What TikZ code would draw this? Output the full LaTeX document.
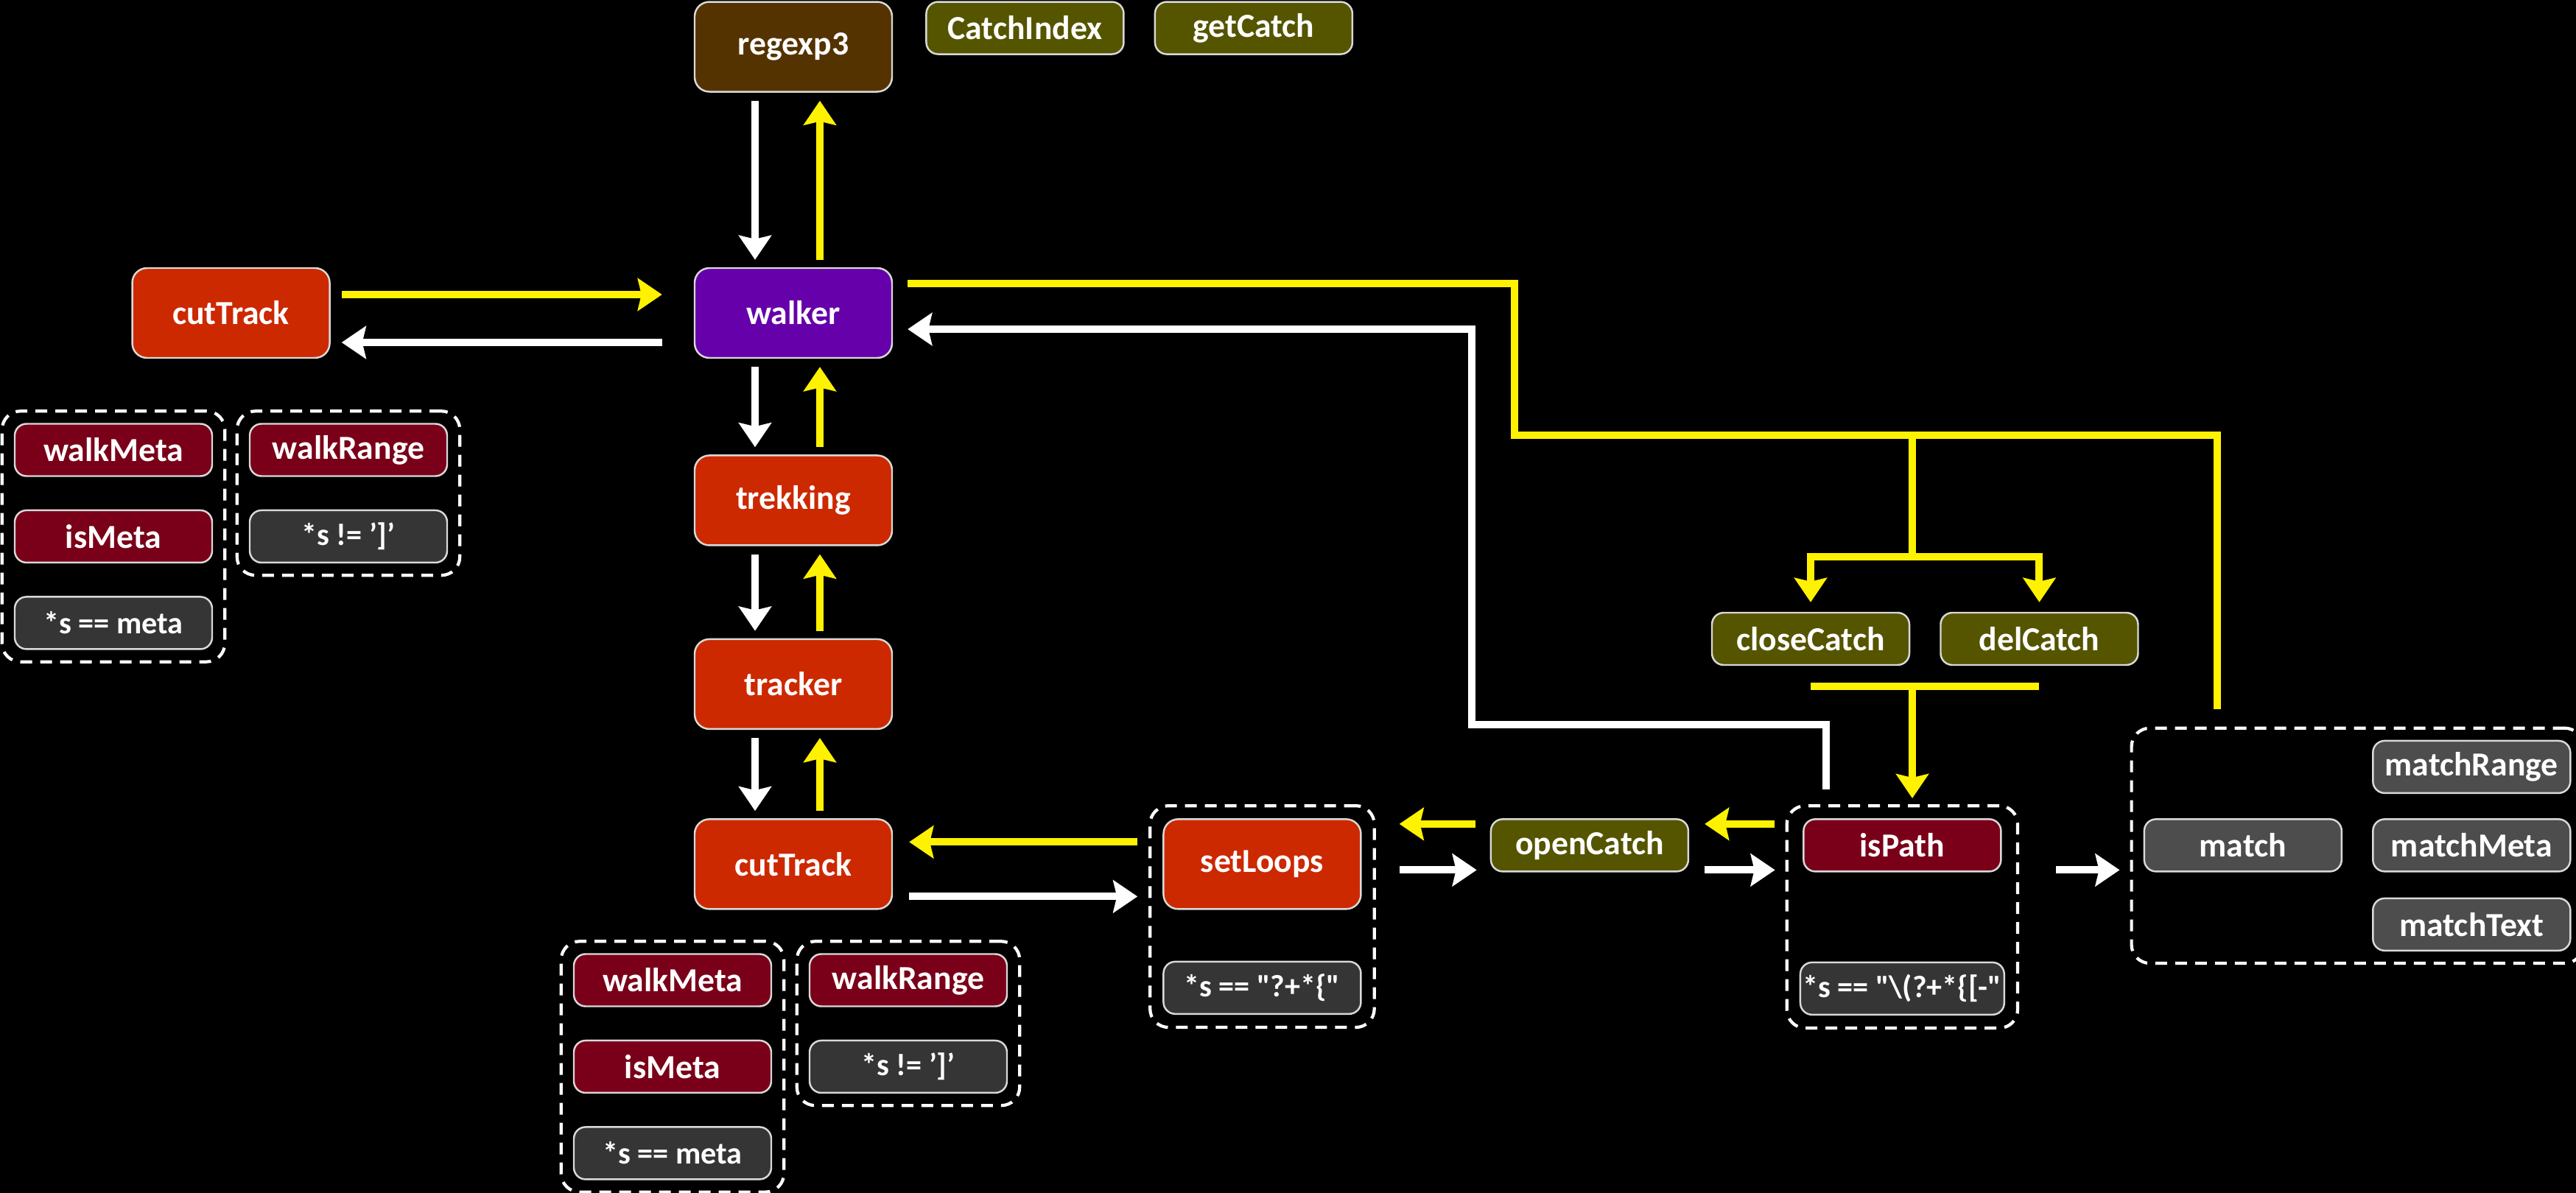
\documentclass[tikz,border=0pt]{standalone}
\usepackage{fontspec}
\setmainfont{Carlito}
\usetikzlibrary{arrows.meta,positioning,fit,calc}
\definecolor{brownC}{HTML}{553300}
\definecolor{oliveC}{HTML}{555500}
\definecolor{purpleC}{HTML}{6600AA}
\definecolor{redC}{HTML}{CC2900}
\definecolor{maroonC}{HTML}{7A0019}
\definecolor{condC}{HTML}{353535}
\definecolor{matchC}{HTML}{4D4D4D}

\begin{document}
\begin{tikzpicture}[node distance=0.44cm, every node/.style={font=\bfseries\fontsize{13}{15}\selectfont, text=white}, fn/.style={draw=white!85!black, line width=0.7pt, rounded corners=2mm, align=center, inner xsep=1pt, minimum width=2.68cm, minimum height=1.22cm}, tag/.style={fn, rounded corners=1.6mm, minimum height=0.71cm}, cond/.style={tag, fill=condC, font=\bfseries\fontsize{12}{14}\selectfont}, grp/.style={draw=white, line width=1.2pt, dash pattern=on 1.6mm off 1.1mm, rounded corners=2.5mm, inner sep=1.6mm}, wflow/.style={draw=white, line width=1mm, -{Stealth[length=3.3mm, width=4.4mm, inset=0.5mm]}}, yflow/.style={wflow, draw=yellow}, yline/.style={draw=yellow, line width=1mm}]
\fill[black] (0,0) rectangle (34.97,-16.2);
\useasboundingbox (0,0) rectangle (34.97,-16.2);
% centre column
\node[fn, fill=purpleC] (walker) at (10.77,-4.25) {walker};
\node[fn, fill=brownC, above=2.37cm of walker] (regexp) {regexp3};
\node[tag, fill=oliveC, right=0.44cm of regexp.north east, anchor=north west] (catchIndex) {CatchIndex};
\node[tag, fill=oliveC, right=0.40cm of catchIndex] (getCatch) {getCatch};
\node[fn, fill=redC, below=1.30cm of walker] (trekking) {trekking};
\node[fn, fill=redC, below=1.25cm of trekking] (tracker) {tracker};
\node[fn, fill=redC, below=1.20cm of tracker] (cutTrackB) {cutTrack};
\node[fn, fill=redC, left=4.93cm of walker] (cutTrackA) {cutTrack};
% helpers on the left
\node[tag, fill=maroonC] (walkMetaA) at (1.54,-6.11) {walkMeta};
\node[tag, fill=maroonC, below=of walkMetaA] (isMetaA) {isMeta};
\node[cond, below=of isMetaA] (metaA) {*s == meta};
\node[tag, fill=maroonC] (walkRangeA) at (4.73,-6.11) {walkRange};
\node[cond, below=of walkRangeA] (rangeA) {*s != ']'};
\node[grp, fit=(walkMetaA)(metaA)] (metaGrpA) {};
\node[grp, fit=(walkRangeA)(rangeA)] (rangeGrpA) {};
% helpers below
\node[tag, fill=maroonC] (walkMetaB) at (9.13,-13.31) {walkMeta};
\node[tag, fill=maroonC, below=of walkMetaB] (isMetaB) {isMeta};
\node[cond, below=of isMetaB] (metaB) {*s == meta};
\node[tag, fill=maroonC] (walkRangeB) at (12.33,-13.31) {walkRange};
\node[cond, below=of walkRangeB] (rangeB) {*s != ']'};
\node[grp, fit=(walkMetaB)(metaB)] (metaGrpB) {};
\node[grp, fit=(walkRangeB)(rangeB)] (rangeGrpB) {};
% loops and catches
\node[fn, fill=redC, right=3.66cm of cutTrackB] (setLoops) {setLoops};
\node[cond, below=0.69cm of setLoops] (loopCond) {*s == \textquotedbl?+*\{\textquotedbl};
\node[grp, inner sep=1.7mm, fit=(setLoops)(loopCond)] (loopGrp) {};
\node[tag, fill=oliveC, right=1.74cm of setLoops.north east, anchor=north west] (openCatch) {openCatch};
\node[tag, fill=maroonC, right=1.54cm of openCatch] (isPath) {isPath};
\node[cond, below=1.21cm of isPath] (pathCond) {*s == \textquotedbl\textbackslash(?+*\{[-\textquotedbl};
\node[grp, inner sep=1.7mm, fit=(isPath)(pathCond)] (pathGrp) {};
\node[tag, fill=matchC, right=1.92cm of isPath] (match) {match};
\node[tag, fill=matchC, right=0.40cm of match] (matchMeta) {matchMeta};
\node[tag, fill=matchC, above=0.33cm of matchMeta] (matchRange) {matchRange};
\node[tag, fill=matchC, below=0.34cm of matchMeta] (matchText) {matchText};
\node[grp, fit=(match)(matchRange)(matchText)] (matchGrp) {};
\node[tag, fill=oliveC] (closeCatch) at (24.58,-8.675) {closeCatch};
\node[tag, fill=oliveC, right=0.40cm of closeCatch] (delCatch) {delCatch};
\coordinate (hub) at (25.96,-5.91);
\coordinate (fork) at (25.96,-7.56);
\coordinate (join) at (25.96,-9.32);
% calls down, returns up
\foreach \a/\b in {regexp/walker, walker/trekking, trekking/tracker, tracker/cutTrackB} {
  \draw[wflow] ([xshift=-5.2mm, yshift=-1.1mm]\a.south) -- ([xshift=-5.2mm, yshift=1mm]\b.north);
  \draw[yflow] ([xshift=3.6mm, yshift=1mm]\b.north) -- ([xshift=3.6mm, yshift=-1.1mm]\a.south);
}
\draw[yflow] ([xshift=1.5mm, yshift=2.5mm]cutTrackA.east) -- ([xshift=-4.3mm, yshift=2.5mm]walker.west);
\draw[wflow] ([xshift=-4.3mm, yshift=-4mm]walker.west) -- ([xshift=1.5mm, yshift=-4mm]cutTrackA.east);
\draw[yflow] ([xshift=-3.4mm, yshift=3mm]setLoops.west) -- ([xshift=2.2mm, yshift=3mm]cutTrackB.east);
\draw[wflow] ([xshift=2.2mm, yshift=-4.4mm]cutTrackB.east) -- ([xshift=-3.4mm, yshift=-4.4mm]setLoops.west);
\draw[yflow] ($(openCatch.west)+(-2mm,2.9mm)$) -- ($(setLoops.east |- openCatch.west)+(5.1mm,2.9mm)$);
\draw[wflow] ($(setLoops.east |- openCatch.west)+(5.1mm,-3.35mm)$) -- ($(openCatch.west)+(-1.8mm,-3.35mm)$);
\draw[yflow] ($(pathGrp.west |- isPath.west)+(-1.5mm,2.9mm)$) -- ($(openCatch.east)+(2.1mm,2.9mm)$);
\draw[wflow] ($(openCatch.east)+(2.1mm,-3.35mm)$) -- ($(pathGrp.west |- isPath.west)+(-1.4mm,-3.35mm)$);
\draw[wflow] ($(pathGrp.east |- isPath.east)+(5mm,-3.35mm)$) -- ($(matchGrp.west |- match.west)+(-1.4mm,-3.35mm)$);
% walker to the catch helpers
\draw[yline] ($(walker.east)+(2mm,4mm)$) -| (20.56,-5.91) -- (30.10,-5.91) -- (30.10,-9.63);
\draw[yline] (hub) -- (fork);
\draw[yflow] (fork) -| ([yshift=1.3mm]closeCatch.north);
\draw[yflow] (fork) -| ([yshift=1.3mm]delCatch.north);
\draw[yline] (join -| closeCatch.south) -- (join -| delCatch.south);
\draw[yflow] (join) -- ($(join |- pathGrp.north)+(0,0.8mm)$);
\draw[wflow] ($(pathGrp.north)+(-10.3mm,2mm)$) |- (19.98,-9.84) |- ($(walker.east)+(2mm,-2.2mm)$);
\end{tikzpicture}
\end{document}
